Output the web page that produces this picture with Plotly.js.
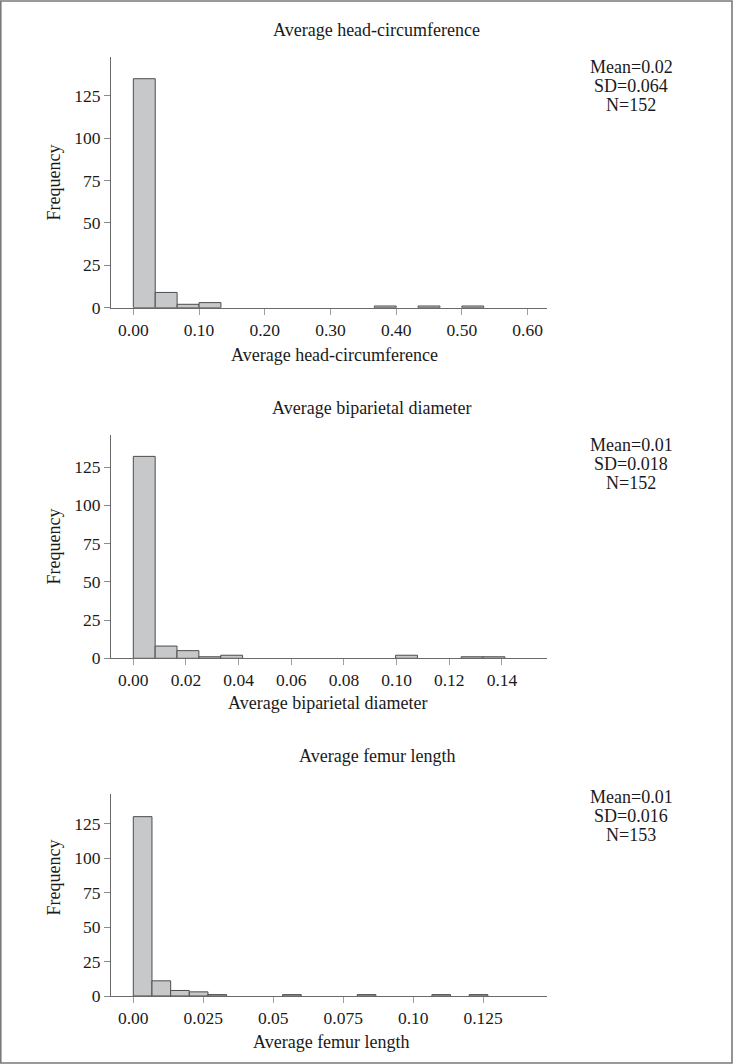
<!DOCTYPE html>
<html>
<head>
<meta charset="utf-8">
<script src="https://cdn.plot.ly/plotly-3.0.1.min.js"></script>
<style>
  html, body { margin: 0; padding: 0; background: #fff; }
  #chart { width: 733px; height: 1064px; }
</style>
</head>
<body>
<div id="chart"></div>
<script>
// ---------- DATA ----------
// Panel 1: Average head-circumference
const hcTitle = "Average head-circumference";
const hcBinWidth = 0.0333;
const hcBinStarts = [0, 0.0333, 0.0667, 0.1, 0.3667, 0.4333, 0.5];
const hcCounts    = [135, 9, 2, 3, 1, 1, 1];
const hcTicks     = [0, 0.1, 0.2, 0.3, 0.4, 0.5, 0.6];
const hcTickText  = ["0.00", "0.10", "0.20", "0.30", "0.40", "0.50", "0.60"];
const hcStats     = ["Mean=0.02", "SD=0.064", "N=152"];

// Panel 2: Average biparietal diameter
const bpTitle = "Average biparietal diameter";
const bpBinWidth = 0.0083;
const bpBinStarts = [0, 0.0083, 0.0166, 0.0249, 0.0332, 0.0996, 0.1245, 0.1328];
const bpCounts    = [132, 8, 5, 1, 2, 2, 1, 1];
const bpTicks     = [0, 0.02, 0.04, 0.06, 0.08, 0.10, 0.12, 0.14];
const bpTickText  = ["0.00", "0.02", "0.04", "0.06", "0.08", "0.10", "0.12", "0.14"];
const bpStats     = ["Mean=0.01", "SD=0.018", "N=152"];

// Panel 3: Average femur length
const flTitle = "Average femur length";
const flBinWidth = 0.00667;
const flBinStarts = [0, 0.00667, 0.01333, 0.02, 0.02667, 0.05333, 0.08, 0.10667, 0.12];
const flCounts    = [130, 11, 4, 3, 1, 1, 1, 1, 1];
const flTicks     = [0, 0.025, 0.05, 0.075, 0.10, 0.125];
const flTickText  = ["0.00", "0.025", "0.05", "0.075", "0.10", "0.125"];
const flStats     = ["Mean=0.01", "SD=0.016", "N=153"];

const yTicks = [0, 25, 50, 75, 100, 125];
const yTitle = "Frequency";

// ---------- LAYOUT HELPERS ----------
const W = 733, H = 1064;
const px = v => v / W;
const py = v => 1 - v / H;
const FONT = "Liberation Serif, Times New Roman, serif";
const TXT = "#1a1a1a";

const panels = [
  { title: hcTitle, starts: hcBinStarts, counts: hcCounts, bw: hcBinWidth,
    ticks: hcTicks, tickText: hcTickText, stats: hcStats,
    top: 57, bottom: 307.7, xr: [-0.034, 0.6295], yr: [0, 147.8],
    titleY: 30.5, titleX: 376, xTitleY: 355, xTitleX: 334, yTitleY: 182.5, statsY: 67 },
  { title: bpTitle, starts: bpBinStarts, counts: bpCounts, bw: bpBinWidth,
    ticks: bpTicks, tickText: bpTickText, stats: bpStats,
    top: 434.5, bottom: 658.3, xr: [-0.00847, 0.1571], yr: [0, 146.3],
    titleY: 408, titleX: 372, xTitleY: 703, xTitleX: 328, yTitleY: 546.5, statsY: 445 },
  { title: flTitle, starts: flBinStarts, counts: flCounts, bw: flBinWidth,
    ticks: flTicks, tickText: flTickText, stats: flStats,
    top: 794.3, bottom: 996, xr: [-0.00797, 0.1478], yr: [0, 146.2],
    titleY: 755.5, titleX: 377, xTitleY: 1042, xTitleX: 331, yTitleY: 877.5, statsY: 797 }
];

const data = [];
const layout = {
  width: W, height: H,
  margin: { l: 0, r: 0, t: 0, b: 0, pad: 0 },
  paper_bgcolor: "#ffffff",
  plot_bgcolor: "#ffffff",
  showlegend: false,
  font: { family: FONT, size: 17, color: TXT },
  bargap: 0,
  annotations: [],
  shapes: [
    { type: "rect", xref: "paper", yref: "paper",
      x0: px(0.8), x1: px(732), y0: py(1063), y1: py(1),
      line: { color: "#7a7a7a", width: 1.6 }, fillcolor: "rgba(0,0,0,0)" }
  ]
};

panels.forEach((p, i) => {
  const n = i + 1;
  const xa = n === 1 ? "xaxis" : "xaxis" + n;
  const ya = n === 1 ? "yaxis" : "yaxis" + n;
  const xr = n === 1 ? "x" : "x" + n;
  const yr = n === 1 ? "y" : "y" + n;

  data.push({
    type: "bar",
    x: p.starts,
    y: p.counts,
    width: p.starts.map(() => p.bw),
    offset: 0,
    xaxis: xr, yaxis: yr,
    marker: { color: "#c7c8ca", line: { color: "#4d4d4d", width: 1 } },
    hoverinfo: "x+y"
  });

  layout[xa] = {
    domain: [px(111), px(547)],
    anchor: yr,
    range: p.xr,
    tickmode: "array",
    tickvals: p.ticks,
    ticktext: p.tickText,
    ticks: "outside", ticklen: 6, tickwidth: 1, tickcolor: "#a0a0a0",
    showline: true, linecolor: "#6a6a6a", linewidth: 1,
    showgrid: false, zeroline: false,
    tickfont: { family: FONT, size: 17.5, color: TXT },
    fixedrange: true
  };
  layout[ya] = {
    domain: [py(p.bottom), py(p.top)],
    anchor: xr,
    range: p.yr,
    tickmode: "array",
    tickvals: yTicks,
    ticks: "outside", ticklen: 6, tickwidth: 1, tickcolor: "#8a8a8a",
    showline: true, linecolor: "#6a6a6a", linewidth: 1,
    showgrid: false, zeroline: false,
    tickfont: { family: FONT, size: 17.5, color: TXT },
    fixedrange: true
  };

  const ann = (text, x, y, extra) => Object.assign({
    text, xref: "paper", yref: "paper", x: px(x), y: py(y),
    xanchor: "center", yanchor: "middle", showarrow: false,
    font: { family: FONT, size: 18, color: TXT }
  }, extra || {});

  layout.annotations.push(ann(p.title, p.titleX, p.titleY));
  layout.annotations.push(ann(p.title, p.xTitleX, p.xTitleY));
  layout.annotations.push(ann(yTitle, 53, p.yTitleY, { textangle: -90 }));
  p.stats.forEach((s, k) => {
    layout.annotations.push(ann(s, 631, p.statsY + k * 19));
  });
});

Plotly.newPlot("chart", data, layout, { displayModeBar: false, staticPlot: true });
</script>
</body>
</html>
